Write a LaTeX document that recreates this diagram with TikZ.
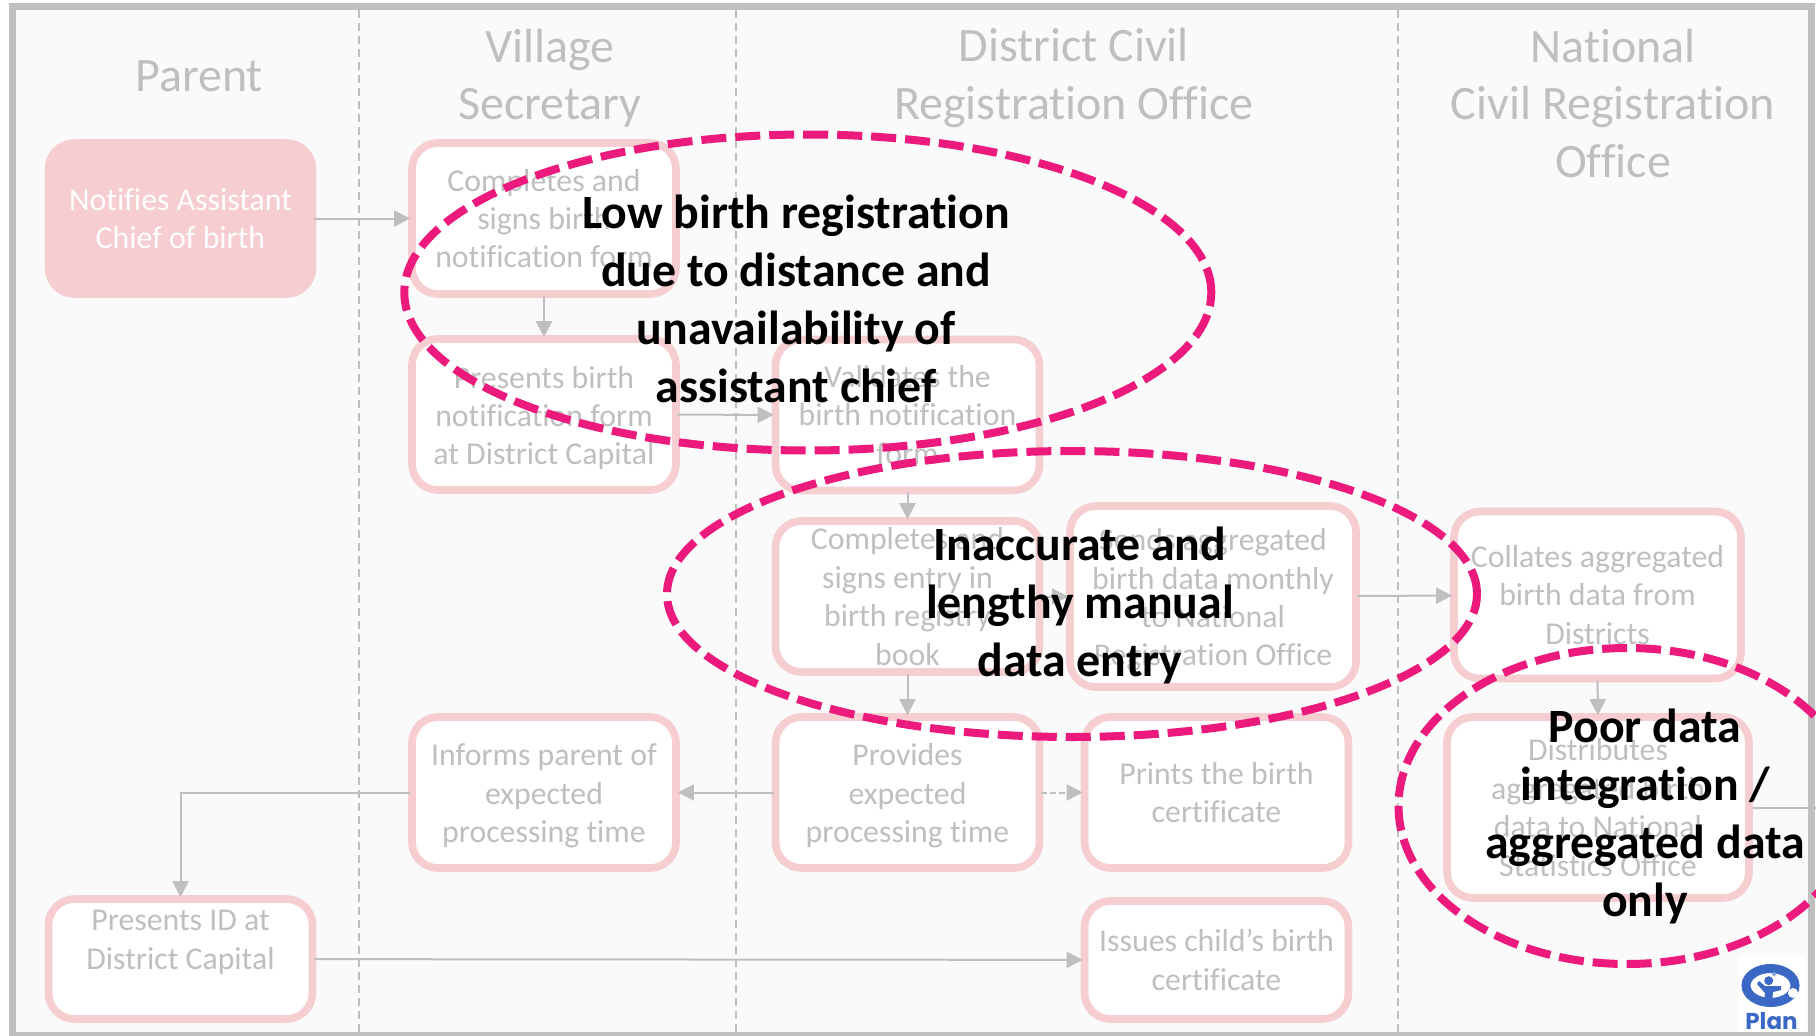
\documentclass[tikz,border=0pt]{standalone}
\usepackage{fontspec}
\setmainfont[Ligatures=NoCommon]{Carlito}
\newfontfamily\planfont{Poppins}
\usetikzlibrary{arrows.meta}
\usetikzlibrary{shapes.geometric}
\definecolor{boxpink}{HTML}{F6CDD0}
\definecolor{fadegray}{HTML}{BFBFBF}
\definecolor{issuepink}{HTML}{EC1A7D}
\definecolor{planblue}{HTML}{3B67C5}
\newcommand{\lowerline}{\rule{0pt}{29pt}}
\tikzset{>/.tip={Triangle[length=16pt,width=16pt]}}
\tikzset{
  stepbox/.style={draw=boxpink, line width=7.6pt, fill=white, rounded corners=26pt,
    minimum width=264pt, minimum height=151pt, inner sep=0pt, align=center,
    text=fadegray, font=\fontsize{31.8}{38.4}\selectfont},
  header/.style={align=center, text=fadegray, font=\fontsize{48}{57.5}\selectfont},
  issue/.style={ellipse, draw=issuepink, line width=8pt, dash pattern=on 25pt off 9pt, inner sep=0pt},
  issuetext/.style={align=center, text=black, font=\fontsize{47.8}{58}\selectfont\bfseries},
  link/.style={draw=fadegray, line width=2pt, shorten <=-2pt, shorten >=-2pt, ->}
}

\begin{document}
\begin{tikzpicture}[x=1pt,y=-1pt]
\path[use as bounding box, clip] (0,0) rectangle (1816,1036);
\fill[fill=white] (0,0) rectangle (1816,1037);
\draw[draw=fadegray, line width=7pt, fill=black!2] (12,6.5) rectangle (1811,1035);
\foreach \x in {359,736,1398}
{
  \draw[draw=fadegray, line width=1.5pt, dash pattern=on 8pt off 5pt] (\x,10) -- (\x,1033);
}

\node[header] (parent)   at (199,76)   {Parent};
\node[header] (village)  at (550,78)   {Village\\Secretary};
\node[header] (district) at (1074,78)  {District Civil\\Registration Office};
\node[header] (national) at (1613,103) {National\\Civil Registration\\Office};

\node[stepbox, fill=boxpink, text=white] (notify) at (180.5,218.5) {Notifies Assistant\\Chief of birth};
\node[stepbox] (form)     at (544,218.5)  {Completes and\\signs birth\\notification form};
\node[stepbox] (capital)  at (544,414.5)  {\lowerline Presents birth\\notification form\\at District Capital};
\node[stepbox] (validate) at (907.5,415)  {Validates the\\birth notification\\form};
\node[stepbox] (entry)    at (907.5,596.5){Completes and\\signs entry in\\birth registry\\book};
\node[stepbox, minimum width=286pt, minimum height=181pt] (monthly) at (1213,596.5) {\lowerline Sends aggregated\\birth data monthly\\to National\\Registration Office};
\node[stepbox] (inform)   at (544,792.5)  {\lowerline Informs parent of\\expected\\processing time};
\node[stepbox] (provide)  at (907.5,792.5){\lowerline Provides\\expected\\processing time};
\node[stepbox] (print)    at (1216.5,792.5){Prints the birth\\certificate};
\node[stepbox, minimum height=120pt] (idcard) at (180.5,959) {Presents ID at\\District Capital\\~};
\node[stepbox, minimum height=118pt] (issue)  at (1216.5,960) {Issues child’s birth\\certificate};
\node[stepbox, minimum width=287pt, minimum height=167pt] (collate) at (1597.5,595) {Collates aggregated\\birth data from\\Districts};
\node[stepbox, minimum width=302pt, minimum height=181pt] (share)   at (1598,807.5) {Distributes\\aggregated birth\\data to National\\Statistics Office};
\coordinate (offpage) at (1816,807.5);

\draw[link] (notify) -- (form);
\draw[link] (form) -- (capital);
\draw[link] (capital) -- (validate);
\draw[link] (validate) -- (entry);
\draw[link] (entry) -- (provide);
\draw[link] (entry) -- (monthly);
\draw[link] (monthly) -- (collate);
\draw[link] (collate) -- (share);
\draw[link] (provide) -- (inform);
\draw[link, dash pattern=on 6pt off 3pt] (provide) -- (print);
\draw[link] (inform) -| (idcard);
\draw[link] (idcard) -- (issue);
\draw[draw=fadegray, line width=2pt] (share) -- (offpage);

\node[issue, minimum width=807pt, minimum height=316pt] (low)    at (807.8,292.5) {};
\node[issue, minimum width=810pt, minimum height=286pt] (manual) at (1072,594) {};
\node[issue, minimum width=457pt, minimum height=316pt] (poor)   at (1627,806) {};

\node[issuetext] (lowtext)    at (796,299)  {Low birth registration\\due to distance and\\unavailability of\\assistant chief};
\node[issuetext] (manualtext) at (1080,605) {Inaccurate and\\lengthy manual\\data entry};
\node[issuetext] (poortext)   at (1645,816) {Poor data\\integration /\\aggregated data\\only};

\fill[fill=white] (1738,955) rectangle (1805,1031);
\draw[draw=planblue, line width=9pt] (1770.5,985.5) ellipse [x radius=24.5, y radius=17];
\fill[fill=white] (1793,993) circle [radius=5];
\fill[fill=planblue] (1768.7,980.7) circle [radius=4.5];
\fill[fill=planblue] (1759,981) -- (1765,986) -- (1772,986) -- (1781,986) -- (1781,990) -- (1773,992) -- (1772,1003) -- (1764,1003) -- (1765,993) -- (1757,984) -- cycle;
\fill[fill=planblue!60] (1774,974) circle [radius=2];
\node[text=planblue, font=\fontsize{23}{23}\selectfont\bfseries\planfont] (logo) at (1771.5,1021) {Plan};
\end{tikzpicture}
\end{document}
